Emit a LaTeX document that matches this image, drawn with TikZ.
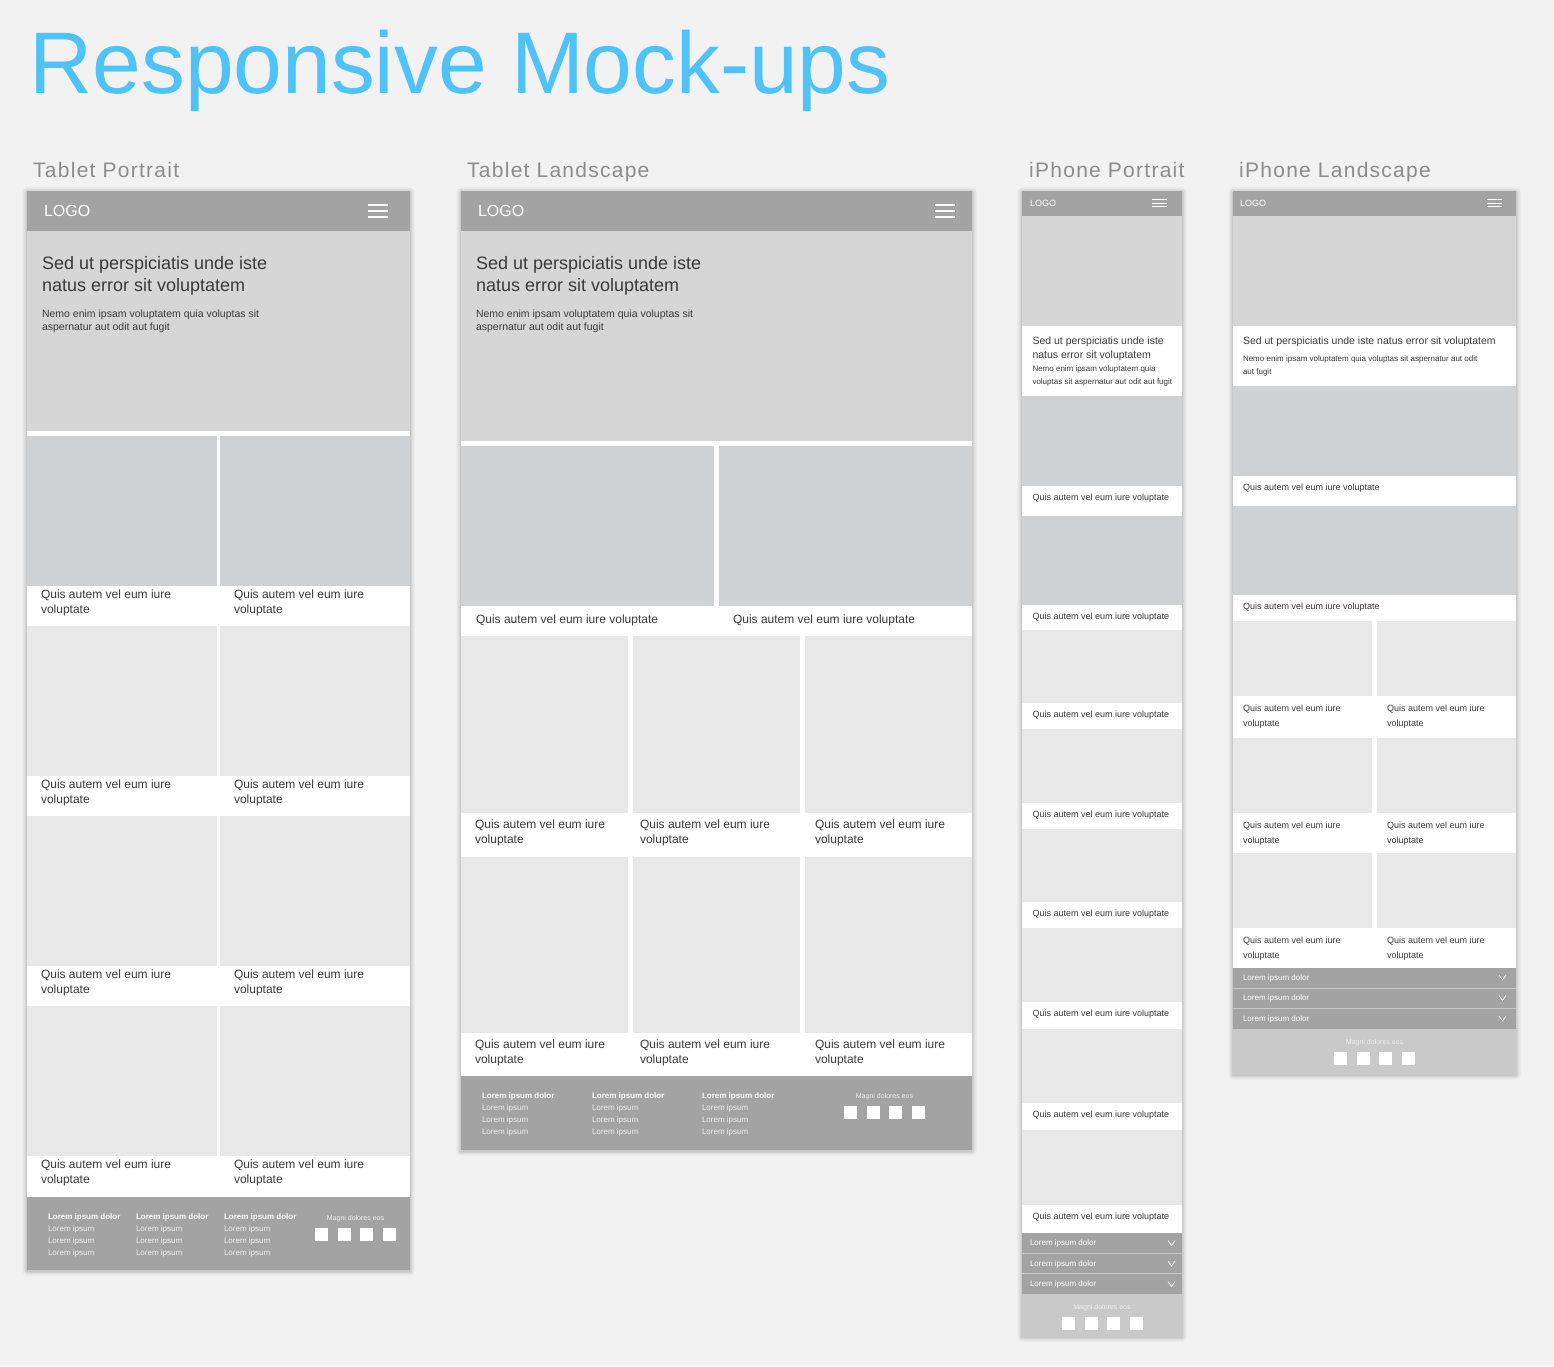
\documentclass[tikz,border=0pt]{standalone}
\usepackage{fontspec}
\setmainfont{Liberation Sans}
\newfontfamily\labelfont[LetterSpace=6]{Liberation Sans}

\definecolor{page}{HTML}{F2F2F2}
\definecolor{bar}{HTML}{A3A3A3}
\definecolor{hero}{HTML}{D6D6D6}
\definecolor{photo}{HTML}{CFD2D5}
\definecolor{tile}{HTML}{E8E8E8}
\definecolor{foot}{HTML}{C9C9C9}
\definecolor{titleblue}{RGB}{79,195,247}
\definecolor{label}{HTML}{8C8C8C}
\definecolor{ink}{HTML}{3A3A3A}
\definecolor{rule}{HTML}{C6C6C6}
\definecolor{pale}{HTML}{EFEFEF}

\newcommand\fs[1]{\fontsize{#1}{#1}\selectfont}

% soft drop shadow behind a device frame
\newcommand\devshadow[4]{%
  \foreach \d/\o in {5/0.02,4/0.025,3/0.03,2/0.04,1/0.06}{
    \fill[black, opacity=\o, rounded corners=\d pt] (#1-\d,#2-\d+1) rectangle (#3+\d,#4+\d+1);
  }}
% hamburger icon: x from, first y, x to, gap, line width
\newcommand\burger[5]{%
  \foreach \k in {0,1,2}{\draw[white, line width=#5] (#1,#2+\k*#4) -- (#3,#2+\k*#4);}}
% four white social squares
\newcommand\icons[2]{%
  \foreach \k in {0,...,3}{\fill[white] (#1+\k*22.67,#2) rectangle ++(13,13);}}
% accordion chevron
\newcommand\chev[2]{%
  \draw[white, line width=0.7] (#1,#2) -- (#1+3.5,#2+5) -- (#1+7,#2);}

\tikzset{
  txt/.style={anchor=base west, inner sep=0pt, outer sep=0pt, text=ink},
  logo/.style={txt, text=white},
  fhead/.style={txt, text=white, font=\fs{8}\bfseries},
  fline/.style={txt, text=pale, font=\fs{8}},
  magni/.style={anchor=base, inner sep=0pt, text=pale, font=\fs{7}},
  acc/.style={txt, text=white, font=\fs{8}},
  sect/.style={anchor=base west, inner sep=0pt, text=label, font=\labelfont\fs{21}},
}

\begin{document}
\begin{tikzpicture}[x=1pt, y=-1pt]
\useasboundingbox (0,0) rectangle (1554,1366);
\fill[page] (0,0) rectangle (1554,1366);

% ---------- headings ----------
\node[anchor=base west, inner sep=0pt, text=titleblue, font=\fs{87.5}] (title) at (29.5,93) {Responsive Mock-ups};
\node[sect] (lab-tp) at (33,177) {Tablet Portrait};
\node[sect] (lab-tl) at (467,177) {Tablet Landscape};
\node[sect] (lab-ip) at (1029,177) {iPhone Portrait};
\node[sect] (lab-il) at (1239,177) {iPhone Landscape};

% ================= Tablet portrait =================
\devshadow{27}{191}{410}{1270}
\fill[white] (27,191) rectangle (410,1270);
\fill[bar] (27,191) rectangle (410,231);
\node[logo, font=\fs{16}] (tp-logo) at (44,216.5) {LOGO};
\burger{368}{205}{388}{6}{1.4}
\fill[hero] (27,231) rectangle (410,431);
\node[txt, font=\fs{18}] (tp-h1) at (42,269) {Sed ut perspiciatis unde iste};
\node[txt, font=\fs{18}] (tp-h2) at (42,291) {natus error sit voluptatem};
\node[txt, font=\fs{10.5}] (tp-p1) at (42,317) {Nemo enim ipsam voluptatem quia voluptas sit};
\node[txt, font=\fs{10.5}] (tp-p2) at (42,330.5) {aspernatur aut odit aut fugit};
\foreach \r in {0,...,3}{
  \pgfmathsetmacro\yo{436+190*\r}
  \ifnum\r=0 \def\tc{photo}\else\def\tc{tile}\fi
  \foreach \c/\xa/\xb in {0/27/217,1/220/410}{
    \fill[\tc] (\xa,\yo) rectangle (\xb,\yo+150);
    \node[txt, font=\fs{12}] (tp-cap-\r-\c-a) at (\xa+14,\yo+162) {Quis autem vel eum iure};
    \node[txt, font=\fs{12}] (tp-cap-\r-\c-b) at (\xa+14,\yo+177) {voluptate};
  }
}
\fill[bar] (27,1197) rectangle (410,1270);
\foreach \c/\xx in {0/48,1/136,2/224}{
  \node[fhead] (tp-fh-\c) at (\xx,1219) {Lorem ipsum dolor};
  \foreach \k in {1,2,3}{\node[fline] (tp-fl-\c-\k) at (\xx,1219+12*\k) {Lorem ipsum};}
}
\node[magni] (tp-magni) at (355.5,1220) {Magni dolores eos};
\icons{315}{1228}

% ================= Tablet landscape =================
\devshadow{461}{191}{972}{1150}
\fill[white] (461,191) rectangle (972,1150);
\fill[bar] (461,191) rectangle (972,231);
\node[logo, font=\fs{16}] (tl-logo) at (478,216.5) {LOGO};
\burger{935}{205}{955}{6}{1.4}
\fill[hero] (461,231) rectangle (972,441);
\node[txt, font=\fs{18}] (tl-h1) at (476,269) {Sed ut perspiciatis unde iste};
\node[txt, font=\fs{18}] (tl-h2) at (476,291) {natus error sit voluptatem};
\node[txt, font=\fs{10.5}] (tl-p1) at (476,317) {Nemo enim ipsam voluptatem quia voluptas sit};
\node[txt, font=\fs{10.5}] (tl-p2) at (476,330.5) {aspernatur aut odit aut fugit};
\foreach \c/\xa/\xb/\xt in {0/461/714/476,1/719/972/733}{
  \fill[photo] (\xa,446) rectangle (\xb,606);
  \node[txt, font=\fs{12}] (tl-big-\c) at (\xt,623) {Quis autem vel eum iure voluptate};
}
\foreach \r/\ya/\yb in {0/636/813,1/857/1033}{
  \foreach \c/\xa/\xb/\xt in {0/461/628/475,1/633/800/640,2/805/972/815}{
    \fill[tile] (\xa,\ya) rectangle (\xb,\yb);
    \node[txt, font=\fs{12}] (tl-cap-\r-\c-a) at (\xt,\yb+15) {Quis autem vel eum iure};
    \node[txt, font=\fs{12}] (tl-cap-\r-\c-b) at (\xt,\yb+30) {voluptate};
  }
}
\fill[bar] (461,1076) rectangle (972,1150);
\foreach \c/\xx in {0/482,1/592,2/702}{
  \node[fhead] (tl-fh-\c) at (\xx,1098) {Lorem ipsum dolor};
  \foreach \k in {1,2,3}{\node[fline] (tl-fl-\c-\k) at (\xx,1098+12*\k) {Lorem ipsum};}
}
\node[magni] (tl-magni) at (884.5,1098.5) {Magni dolores eos};
\icons{844}{1106}

% ================= iPhone portrait =================
\devshadow{1022}{191}{1182}{1336}
\fill[white] (1022,191) rectangle (1182,1336);
\fill[bar] (1022,191) rectangle (1182,216);
\node[logo, font=\fs{9}] (ip-logo) at (1030,206) {LOGO};
\burger{1152}{199.5}{1167}{3.5}{1}
\fill[hero] (1022,216) rectangle (1182,326);
\node[txt, font=\fs{10.5}] (ip-h1) at (1032.5,344) {Sed ut perspiciatis unde iste};
\node[txt, font=\fs{10.5}] (ip-h2) at (1032.5,358) {natus error sit voluptatem};
\node[txt, font=\fs{8}] (ip-p1) at (1032.5,371) {Nemo enim ipsam voluptatem quia};
\node[txt, font=\fs{8}] (ip-p2) at (1032.5,384) {voluptas sit aspernatur aut odit aut fugit};
\foreach \k/\ya/\yb in {0/396/486,1/516/605}{
  \fill[photo] (1022,\ya) rectangle (1182,\yb);
  \node[txt, font=\fs{9}] (ip-pcap-\k) at (1032.5,\yb+14) {Quis autem vel eum iure voluptate};
}
\foreach \k/\ya/\yb in {0/630/703,1/729/803,2/829/902,3/928/1002,4/1029/1103,5/1130/1205}{
  \fill[tile] (1022,\ya) rectangle (1182,\yb);
  \node[txt, font=\fs{9}] (ip-cap-\k) at (1032.5,\yb+14) {Quis autem vel eum iure voluptate};
}
\fill[bar] (1022,1233) rectangle (1182,1294);
\draw[rule, line width=1] (1022,1253.5) -- (1182,1253.5);
\draw[rule, line width=1] (1022,1273.5) -- (1182,1273.5);
\foreach \k/\yy in {0/1233,1/1253.5,2/1274}{
  \node[acc] (ip-acc-\k) at (1030,\yy+12.5) {Lorem ipsum dolor};
  \chev{1168}{\yy+7.5}
}
\fill[foot] (1022,1294) rectangle (1182,1336);
\node[magni] (ip-magni) at (1102,1309.5) {Magni dolores eos};
\icons{1062}{1317}

% ================= iPhone landscape =================
\devshadow{1233}{191}{1516}{1074}
\fill[white] (1233,191) rectangle (1516,1074);
\fill[bar] (1233,191) rectangle (1516,216);
\node[logo, font=\fs{9}] (il-logo) at (1240,206) {LOGO};
\burger{1487}{199.5}{1502}{3.5}{1}
\fill[hero] (1233,216) rectangle (1516,326);
\node[txt, font=\fs{10.5}] (il-h1) at (1243,344) {Sed ut perspiciatis unde iste natus error sit voluptatem};
\node[txt, font=\fs{8}] (il-p1) at (1243,361.5) {Nemo enim ipsam voluptatem quia voluptas sit aspernatur aut odit};
\node[txt, font=\fs{8}] (il-p2) at (1243,374) {aut fugit};
\foreach \k/\ya/\yb in {0/386/476,1/506/595}{
  \fill[photo] (1233,\ya) rectangle (1516,\yb);
  \node[txt, font=\fs{9}] (il-pcap-\k) at (1243,\yb+14.5) {Quis autem vel eum iure voluptate};
}
\foreach \r/\ya/\yb in {0/621/696,1/738/813,2/853/928}{
  \foreach \c/\xa/\xb in {0/1233/1372,1/1377/1516}{
    \fill[tile] (\xa,\ya) rectangle (\xb,\yb);
    \node[txt, font=\fs{9}] (il-cap-\r-\c-a) at (\xa+10,\yb+15) {Quis autem vel eum iure};
    \node[txt, font=\fs{9}] (il-cap-\r-\c-b) at (\xa+10,\yb+30) {voluptate};
  }
}
\fill[bar] (1233,968) rectangle (1516,1029);
\draw[rule, line width=1] (1233,988.5) -- (1516,988.5);
\draw[rule, line width=1] (1233,1008.5) -- (1516,1008.5);
\foreach \k/\yy in {0/968,1/988.5,2/1009}{
  \node[acc] (il-acc-\k) at (1243,\yy+12) {Lorem ipsum dolor};
  \chev{1499}{\yy+7}
}
\fill[foot] (1233,1029) rectangle (1516,1074);
\node[magni] (il-magni) at (1374.5,1044.5) {Magni dolores eos};
\icons{1334}{1052}
\end{tikzpicture}
\end{document}
